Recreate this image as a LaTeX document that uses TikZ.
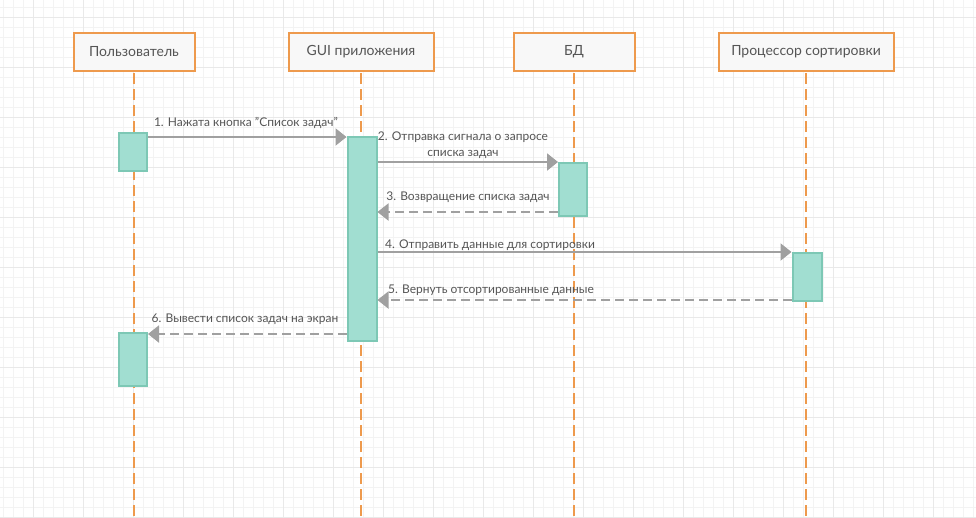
\documentclass[tikz,border=0pt]{standalone}
\usepackage{fontspec}
\setmainfont{Lato}
\usetikzlibrary{arrows.meta}
\definecolor{orangeB}{HTML}{EE9A4D}
\definecolor{actFill}{HTML}{A1DED1}
\definecolor{actLine}{HTML}{7DC8B5}
\definecolor{msgGray}{HTML}{A0A0A0}
\definecolor{txt}{HTML}{555555}
\definecolor{hdrFill}{HTML}{F8F8F8}
\definecolor{gMinor}{HTML}{F3F3F3}
\definecolor{gMajor}{HTML}{E9E9E9}
\begin{document}
\begin{tikzpicture}[x=1pt,y=-1pt,
 header/.style={draw=orangeB, line width=2pt, fill=hdrFill, minimum height=38pt, inner sep=0pt, font=\fontsize{14}{16}\selectfont, text=txt},
 actbox/.style={draw=actLine, line width=2pt, fill=actFill, inner sep=0pt, minimum width=28pt},
 lifeline/.style={draw=orangeB, line width=2pt, dash pattern=on 11pt off 5pt},
 msg/.style={draw=msgGray, line width=2pt, -{Triangle[length=11pt,width=17pt]}},
 reply/.style={msg, dash pattern=on 9pt off 5pt},
 lbl/.style={font=\fontsize{12}{16}\selectfont, text=txt, inner sep=0pt},
 gminor/.style={draw=gMinor, line width=1pt},
 gmajor/.style={draw=gMajor, line width=1pt},
]
\useasboundingbox (0,0) rectangle (976,517);
\fill[white] (0,0) rectangle (976,517);
% grid
\foreach \x in {3,13,...,973} { \draw[gminor] (\x,0) -- (\x,517); }
\foreach \y in {7,17,...,517} { \draw[gminor] (0,\y) -- (976,\y); }
\foreach \x in {33,83,...,933} { \draw[gmajor] (\x,0) -- (\x,517); }
\foreach \y in {17,67,...,517} { \draw[gmajor] (0,\y) -- (976,\y); }

% headers
\node[header, minimum width=121pt] (hU) at (134,52) {Пользователь};
\node[header, minimum width=145pt] (hG) at (361,52) {GUI приложения};
\node[header, minimum width=121pt] (hD) at (574,52) {БД};
\node[header, minimum width=175pt] (hS) at (806,52) {Процессор сортировки};

% lifeline ends
\coordinate (eU) at (134,517);
\coordinate (eG) at (361,517);
\coordinate (eD) at (574,517);
\coordinate (eS) at (806,517);

% lifelines
\draw[lifeline] ([yshift=-1pt]hU.south) -- (eU);
\draw[lifeline] ([yshift=-1pt]hG.south) -- (eG);
\draw[lifeline] ([yshift=-1pt]hD.south) -- (eD);
\draw[lifeline] ([yshift=-1pt]hS.south) -- (eS);

% activations
\node[actbox, minimum height=38pt] (ua1) at (133,152) {};
\node[actbox, minimum width=29pt, minimum height=204pt] (ga) at (362,239) {};
\node[actbox, minimum height=53pt] (da) at (573,189.5) {};
\node[actbox, minimum width=29pt, minimum height=48pt] (pa) at (807,277) {};
\node[actbox, minimum height=53pt] (ua2) at (133,359.5) {};

% messages
\draw[msg] (ua1.east |- 0,137) -- (ga.west |- 0,137);
\draw[msg] (ga.east |- 0,162) -- (da.west |- 0,162);
\draw[reply] (da.west |- 0,212) -- (ga.east |- 0,212);
\draw[msg] (ga.east |- 0,252) -- (pa.west |- 0,252);
\draw[reply] (pa.west |- 0,300) -- (ga.east |- 0,300);
\draw[reply] (ga.west |- 0,334) -- (ua2.east |- 0,334);

% labels
\node[lbl] (l1) at (246,123) {1. Нажата кнопка "Список задач"};
\node[lbl, align=center] (l2) at (463,145) {2. Отправка сигнала о запросе\\списка задач};
\node[lbl] (l3) at (468,197) {3. Возвращение списка задач};
\node[lbl, anchor=west] (l4) at (385,245) {4. Отправить данные для сортировки};
\node[lbl, anchor=west] (l5) at (388,290) {5. Вернуть отсортированные данные};
\node[lbl] (l6) at (245,319) {6. Вывести список задач на экран};
\end{tikzpicture}
\end{document}
